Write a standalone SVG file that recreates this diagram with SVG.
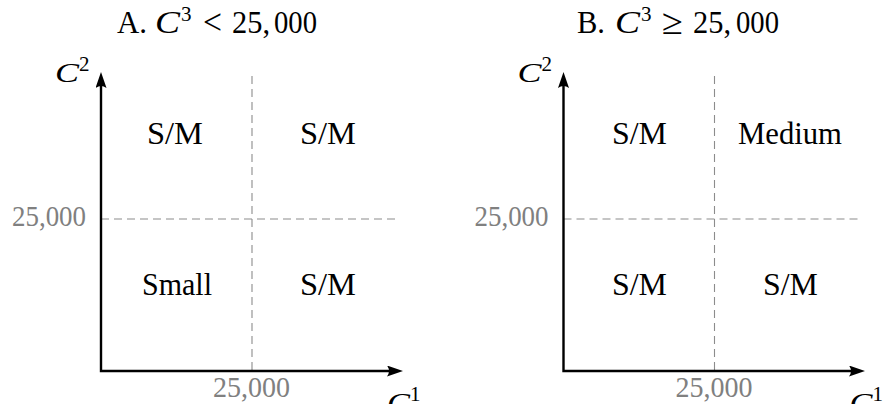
<svg xmlns="http://www.w3.org/2000/svg" width="883" height="404" viewBox="0 0 883 404">
<style>
text{font-family:"Liberation Serif","Times New Roman",serif;fill:#000}
.t{font-size:31px}
.sup{font-size:21px}
.it{font-style:italic}
.lab{font-size:31px}
.axl{font-size:28px}
.rel{font-size:36px}
.tick{font-size:29px;fill:#808080}
.ax{fill:none;stroke:#000;stroke-width:2.4}
.dash{fill:none;stroke:#8c8c8c;stroke-width:1.1;stroke-dasharray:8 5}
</style>
<defs>
<marker id="ah" markerUnits="userSpaceOnUse" viewBox="0 0 16 11" markerWidth="16" markerHeight="11" refX="8" refY="5.5" orient="auto-start-reverse">
<path d="M0,0 Q4,5.5 0,11 L16,5.5 Z" fill="#000"/>
</marker>
</defs>
<rect width="883" height="404" fill="#fff"/>

<g id="connectors">
<path class="dash" d="M252,76 V371"/>
<path class="dash" d="M101,219 H397"/>
<path class="ax" d="M101,80 V371 H395" marker-start="url(#ah)" marker-end="url(#ah)"/>
<path class="dash" d="M714.5,76 V371"/>
<path class="dash" d="M563.5,219 H859"/>
<path class="ax" d="M563.5,80 V371 H857" marker-start="url(#ah)" marker-end="url(#ah)"/>
</g>

<g id="panel-a">
<g id="title-a">
<text class="t" x="117" y="33" textLength="30" lengthAdjust="spacingAndGlyphs">A.</text>
<text class="t it" x="155" y="33" textLength="25" lengthAdjust="spacingAndGlyphs">C</text>
<text class="sup" x="181" y="21">3</text>
<text class="rel" x="203" y="34" textLength="19" lengthAdjust="spacingAndGlyphs">&lt;</text>
<text class="t" x="232" y="33" textLength="38" lengthAdjust="spacingAndGlyphs">25,</text>
<text class="t" x="274" y="33" textLength="43" lengthAdjust="spacingAndGlyphs">000</text>
</g>
<g id="axis-a-y"><text class="axl it" x="55" y="82" textLength="24" lengthAdjust="spacingAndGlyphs">C</text><text class="sup" x="79" y="71">2</text></g>
<g id="axis-a-x"><text class="axl it" x="387" y="412" textLength="23" lengthAdjust="spacingAndGlyphs">C</text><text class="sup" x="410" y="401">1</text></g>
<text id="tick-a-y" class="tick" x="12" y="226" textLength="74" lengthAdjust="spacingAndGlyphs">25,000</text>
<text id="tick-a-x" class="tick" x="213" y="397" textLength="77" lengthAdjust="spacingAndGlyphs">25,000</text>
<text id="a-ul" class="lab" x="147" y="144" textLength="56" lengthAdjust="spacingAndGlyphs">S/M</text>
<text id="a-ur" class="lab" x="300" y="144" textLength="56" lengthAdjust="spacingAndGlyphs">S/M</text>
<text id="a-ll" class="lab" x="142" y="295" textLength="70" lengthAdjust="spacingAndGlyphs">Small</text>
<text id="a-lr" class="lab" x="300" y="295" textLength="56" lengthAdjust="spacingAndGlyphs">S/M</text>
</g>

<g id="panel-b">
<g id="title-b">
<text class="t" x="577" y="33" textLength="28" lengthAdjust="spacingAndGlyphs">B.</text>
<text class="t it" x="615" y="33" textLength="25" lengthAdjust="spacingAndGlyphs">C</text>
<text class="sup" x="641" y="21">3</text>
<text class="rel" x="662" y="34" textLength="21" lengthAdjust="spacingAndGlyphs">≥</text>
<text class="t" x="693" y="33" textLength="38" lengthAdjust="spacingAndGlyphs">25,</text>
<text class="t" x="736" y="33" textLength="43" lengthAdjust="spacingAndGlyphs">000</text>
</g>
<g id="axis-b-y"><text class="axl it" x="517.5" y="82" textLength="24" lengthAdjust="spacingAndGlyphs">C</text><text class="sup" x="541.5" y="71">2</text></g>
<g id="axis-b-x"><text class="axl it" x="849.5" y="412" textLength="23" lengthAdjust="spacingAndGlyphs">C</text><text class="sup" x="872.5" y="401">1</text></g>
<text id="tick-b-y" class="tick" x="474.5" y="226" textLength="74" lengthAdjust="spacingAndGlyphs">25,000</text>
<text id="tick-b-x" class="tick" x="675.5" y="397" textLength="77" lengthAdjust="spacingAndGlyphs">25,000</text>
<text id="b-ul" class="lab" x="612" y="144" textLength="55" lengthAdjust="spacingAndGlyphs">S/M</text>
<text id="b-ur" class="lab" x="738" y="144" textLength="104" lengthAdjust="spacingAndGlyphs">Medium</text>
<text id="b-ll" class="lab" x="612" y="295" textLength="55" lengthAdjust="spacingAndGlyphs">S/M</text>
<text id="b-lr" class="lab" x="763" y="295" textLength="55" lengthAdjust="spacingAndGlyphs">S/M</text>
</g>
</svg>
